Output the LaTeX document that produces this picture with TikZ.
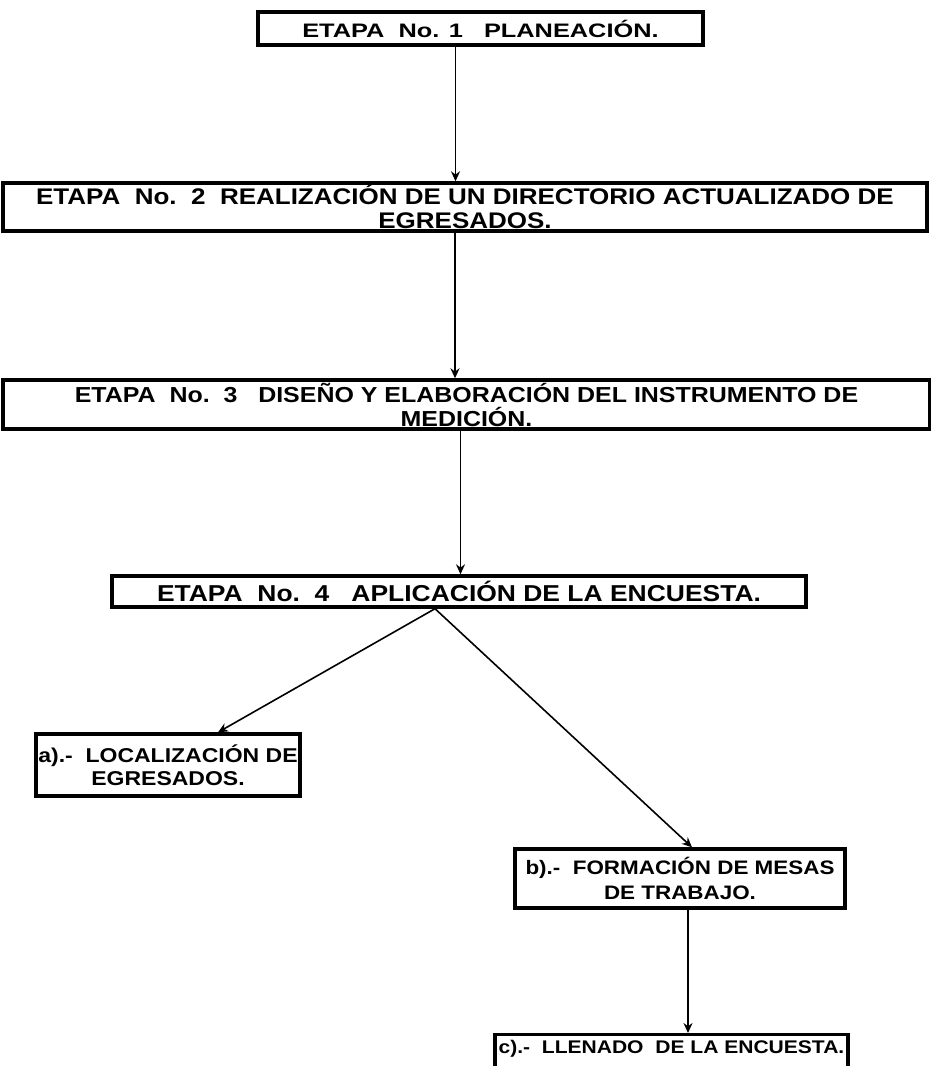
\documentclass[tikz,border=0pt]{standalone}
\usepackage{fontspec}
\setmainfont{Liberation Sans}
\newfontfamily\widesans{Liberation Sans}[FakeStretch=1.15]
\newfontfamily\extrawidesans{Liberation Sans}[FakeStretch=1.3]
\usetikzlibrary{arrows.meta, calc}

\begin{document}
\begin{tikzpicture}[x=1pt, y=1pt, >={Stealth[length=10pt, width=9pt]},
  every node/.style={font=\bfseries, inner sep=0pt},
  stagebox/.style={draw, line width=3.4pt, align=center},
  link/.style={->, line width=1.6pt}]
  \useasboundingbox (0,0) rectangle (930,-1066);
  % stages
  \node[stagebox, minimum width=445, minimum height=33, font=\extrawidesans\bfseries\fontsize{19.5}{21}\selectfont] (stage1) at (480.5,-28.5) {ETAPA\ \ No. 1\ \ \ PLANEACIÓN.};
  \node[stagebox, minimum width=924, minimum height=48, font=\widesans\bfseries\fontsize{22.6}{24}\selectfont] (stage2) at (465,-207) {ETAPA\ \ No.\ \ 2\ \ REALIZACIÓN DE UN DIRECTORIO ACTUALIZADO DE\\EGRESADOS.};
  \node[stagebox, minimum width=927, minimum height=49, font=\widesans\bfseries\fontsize{21.7}{24}\selectfont] (stage3) at (466.5,-404.5) {ETAPA\ \ No.\ \ 3\ \ \ DISEÑO Y ELABORACIÓN DEL INSTRUMENTO DE\\MEDICIÓN.};
  \node[stagebox, minimum width=694, minimum height=31, font=\widesans\bfseries\fontsize{23}{25}\selectfont] (stage4) at (459,-591.5) {ETAPA\ \ No.\ \ 4\ \ \ APLICACIÓN DE LA ENCUESTA.};
  % sub-steps of stage 4
  \node[stagebox, minimum width=264, minimum height=62, font=\widesans\bfseries\fontsize{20}{23}\selectfont] (stepa) at (168,-765) {a).-\ \ LOCALIZACIÓN\ DE\\EGRESADOS.};
  \node[stagebox, minimum width=330, minimum height=59, font=\widesans\bfseries\fontsize{19.5}{25}\selectfont] (stepb) at (680,-878.5) {b).-\ \ FORMACIÓN DE MESAS\\DE TRABAJO.};
  \node[stagebox, minimum width=353, minimum height=50, anchor=north] (stepc) at (671.5,-1033) {};
  \node[anchor=north, font=\widesans\bfseries\fontsize{18.3}{22}\selectfont] (stepctext) at ([yshift=-7pt]stepc.north) {c).-\ \ LLENADO\ \ DE LA ENCUESTA.};
  % connectors
  \draw[link] ([xshift=-25pt]stage1.south) -- ([xshift=-25pt]stage1.south |- stage2.north);
  \draw[link] ([xshift=-10pt]stage2.south) -- ([xshift=-10pt]stage2.south |- stage3.north);
  \draw[link] ([xshift=-6pt]stage3.south) -- ([xshift=-6pt]stage3.south |- stage4.north);
  \draw[link] ([xshift=-24pt]stage4.south) -- ([xshift=50pt]stepa.north);
  \draw[link] ([xshift=-24pt]stage4.south) -- ([xshift=12pt]stepb.north);
  \draw[link] ([xshift=8pt]stepb.south) -- ([xshift=8pt]stepb.south |- stepc.north);
\end{tikzpicture}
\end{document}
